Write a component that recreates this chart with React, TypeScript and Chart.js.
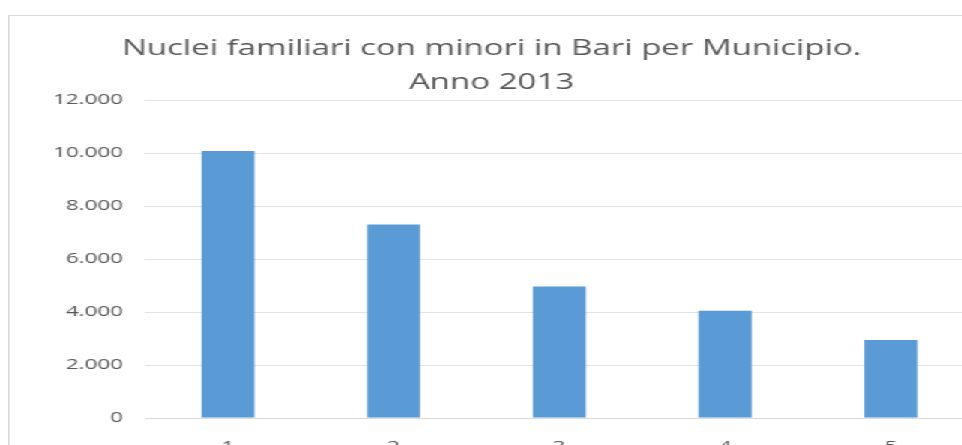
import React, { useEffect, useRef } from "react";
import { Chart, registerables } from "chart.js";

Chart.register(...registerables);

const categories = ["1", "2", "3", "4", "5"];
const values = [10080, 7300, 4960, 4050, 2940];
const titleLines = ["Nuclei familiari con minori in Bari per Municipio.", "Anno 2013"];
const yTicks = [0, 2000, 4000, 6000, 8000, 10000, 12000];

const fmt = (v: number) => String(v).replace(/\B(?=(\d{3})+(?!\d))/g, ".");

const SX = 1.5;
const CW = 655;
const CH = 470;

export default function App() {
  const ref = useRef<HTMLCanvasElement | null>(null);
  useEffect(() => {
    if (!ref.current) return;
    const chart = new Chart(ref.current, {
      type: "bar",
      data: {
        labels: categories,
        datasets: [
          {
            data: values,
            backgroundColor: "#5b9bd5",
            borderWidth: 0,
            categoryPercentage: 1,
            barPercentage: 0.32,
          },
        ],
      },
      options: {
        responsive: false,
        animation: false,
        layout: { padding: { left: 0, right: 12, top: 0, bottom: 10 } },
        plugins: {
          legend: { display: false },
          tooltip: { enabled: false },
          title: {
            display: true,
            text: titleLines,
            color: "#595959",
            font: { family: "'Open Sans', sans-serif", size: 22, weight: "normal", lineHeight: 1.57 },
            padding: { top: 15, bottom: 0 },
          },
        },
        scales: {
          x: {
            grid: { display: false, drawTicks: false },
            border: { display: true, color: "#d9d9d9" },
            ticks: {
              color: "#595959",
              font: { family: "'Open Sans', sans-serif", size: 15 },
              padding: 20,
            },
          },
          y: {
            min: 0,
            max: 12000,
            afterFit: (s: any) => {
              s.width = 90.3;
            },
            afterBuildTicks: (s: any) => {
              s.ticks = yTicks.map((v) => ({ value: v }));
            },
            grid: { color: "#e3e3e3", drawTicks: false },
            border: { display: false },
            ticks: {
              color: "#595959",
              font: { family: "'Open Sans', sans-serif", size: 15 },
              padding: 14.6,
              callback: (v: any) => fmt(Number(v)),
            },
          },
        },
      },
    });
    return () => chart.destroy();
  }, []);

  return (
    <div style={{ position: "fixed", left: 0, top: 0, width: 962, height: 445, overflow: "hidden", background: "#fff" }}>
      <div
        style={{
          position: "absolute",
          left: 8,
          top: 15,
          width: CW + 2,
          height: CH + 2,
          boxSizing: "border-box",
          border: "1px solid #d9d9d9",
          transform: `scaleX(${SX})`,
          transformOrigin: "0 0",
          background: "#fff",
        }}
      >
        <canvas ref={ref} width={CW} height={CH} style={{ display: "block" }} />
      </div>
    </div>
  );
}
